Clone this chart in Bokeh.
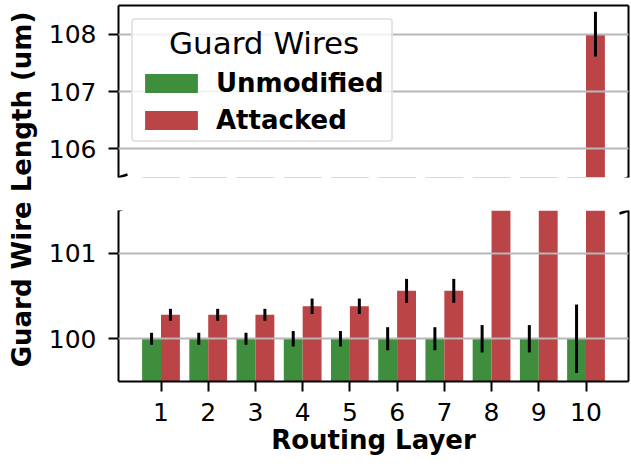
from bokeh.plotting import figure
from bokeh.models import (Range1d, FixedTicker, LinearAxis, Legend, LegendItem,
                          Label, Arrow, ColumnDataSource)
from bokeh.layouts import row, column
from bokeh.transform import dodge
from bokeh.embed import file_html
from bokeh.resources import INLINE

# ---------------- data ----------------
layers = [1, 2, 3, 4, 5, 6, 7, 8, 9, 10]
layer_labels = ["1", "2", "3", "4", "5", "6", "7", "8", "9", "10"]
unmodified = [100.0, 100.0, 100.0, 100.0, 100.0, 100.0, 100.0, 100.0, 100.0, 100.0]
unmodified_err = [0.07, 0.07, 0.07, 0.09, 0.09, 0.135, 0.135, 0.16, 0.16, 0.40]
attacked = [100.28, 100.28, 100.28, 100.38, 100.38, 100.56, 100.56, 103.3, 103.5, 108.0]
attacked_err = [0.07, 0.07, 0.07, 0.09, 0.09, 0.14, 0.14, 0.2, 0.2, 0.39]
top_ticks = [106, 107, 108]
bottom_ticks = [100, 101]
top_limits = (105.5, 108.5)
bottom_limits = (99.5, 101.5)
x_limits = (0.1, 10.9)

GREEN = "#3e8e3e"
RED = "#ba4446"
FONT = "DejaVu Sans"
TICK_FS = "25px"
LABEL_FS = "26px"

src = ColumnDataSource(dict(
    layer=layers,
    unmod=unmodified,
    unmod_lo=[v - e for v, e in zip(unmodified, unmodified_err)],
    unmod_hi=[v + e for v, e in zip(unmodified, unmodified_err)],
    att=attacked,
    att_lo=[v - e for v, e in zip(attacked, attacked_err)],
    att_hi=[v + e for v, e in zip(attacked, attacked_err)],
))

FRAME_W = 510


def bare_axis():
    return LinearAxis(ticker=FixedTicker(ticks=[]), major_tick_out=0, major_tick_in=0,
                      minor_tick_out=0, minor_tick_in=0, major_label_standoff=0,
                      axis_line_width=2, axis_line_color="black")


def style_axis(ax):
    ax.axis_line_width = 2
    ax.axis_line_color = "black"
    ax.major_tick_line_width = 2
    ax.major_tick_line_color = "black"
    ax.major_tick_out = 10
    ax.major_tick_in = 0
    ax.minor_tick_line_color = None
    ax.major_label_text_font = FONT
    ax.major_label_text_font_size = TICK_FS
    ax.major_label_text_color = "black"


def panel(limits, ticks, is_top):
    frame_h = 172 if is_top else 171
    p = figure(frame_width=FRAME_W, frame_height=frame_h,
               x_range=Range1d(*x_limits), y_range=Range1d(*limits),
               output_backend="svg", toolbar_location=None,
               x_axis_location="above" if is_top else "below",
               min_border_left=78, min_border_right=3,
               min_border_top=5 if is_top else 17,
               min_border_bottom=16 if is_top else 60)
    p.outline_line_color = None
    p.background_fill_color = "white"
    p.border_fill_color = "white"

    g = p.vbar(x=dodge("layer", -0.2, range=p.x_range), top="unmod", bottom=0, width=0.4,
               source=src, fill_color=GREEN, line_color=None)
    r = p.vbar(x=dodge("layer", 0.2, range=p.x_range), top="att", bottom=0, width=0.4,
               source=src, fill_color=RED, line_color=None)
    p.segment(x0=dodge("layer", -0.2, range=p.x_range), x1=dodge("layer", -0.2, range=p.x_range),
              y0="unmod_lo", y1="unmod_hi", source=src, line_color="black", line_width=3,
              level="annotation")
    p.segment(x0=dodge("layer", 0.2, range=p.x_range), x1=dodge("layer", 0.2, range=p.x_range),
              y0="att_lo", y1="att_hi", source=src, line_color="black", line_width=3,
              level="annotation")

    p.xgrid.visible = False
    p.ygrid.grid_line_color = "#b8b8b8"
    p.ygrid.grid_line_width = 2
    p.ygrid.level = "guide"

    yax = p.yaxis[0]
    style_axis(yax)
    yax.ticker = FixedTicker(ticks=ticks)
    yax.major_label_standoff = 12
    p.ygrid.ticker = FixedTicker(ticks=ticks)

    xax = p.xaxis[0]
    if is_top:
        xax.ticker = FixedTicker(ticks=[])
        xax.major_tick_out = 0
        xax.major_tick_in = 0
        xax.minor_tick_out = 0
        xax.minor_tick_in = 0
        xax.major_label_standoff = 0
        xax.axis_line_width = 2
        xax.axis_line_color = "black"
    else:
        style_axis(xax)
        xax.ticker = FixedTicker(ticks=layers)
        xax.major_label_overrides = {l: s for l, s in zip(layers, layer_labels)}
        xax.major_label_standoff = 11
        xax.axis_label = "Routing Layer"
        xax.axis_label_text_font = FONT
        xax.axis_label_text_font_size = LABEL_FS
        xax.axis_label_text_font_style = "bold"
        xax.axis_label_text_color = "black"
        xax.axis_label_standoff = 1

    p.add_layout(bare_axis(), "right")

    # axis-break marks
    ybreak = 0 if is_top else frame_h
    for xb in (0, FRAME_W):
        p.add_layout(Arrow(start=None, end=None, x_start=xb - 9, y_start=ybreak - 3,
                           x_end=xb + 9, y_end=ybreak + 3, start_units="screen",
                           end_units="screen", line_width=2.5, line_color="black"))
    return p, g, r


top, g_top, r_top = panel(top_limits, top_ticks, True)
bottom, _, _ = panel(bottom_limits, bottom_ticks, False)

legend = Legend(items=[LegendItem(label="Unmodified", renderers=[g_top]),
                       LegendItem(label="Attacked", renderers=[r_top])],
                location="top_left", margin=13, padding=5, spacing=7,
                title="\u2002\u2002Guard Wires", title_text_font=FONT,
                title_text_font_size="31px", title_text_font_style="normal",
                title_text_color="black", title_standoff=7,
                label_text_font=FONT, label_text_font_size="26px",
                label_text_font_style="bold", label_text_color="black",
                label_width=170,
                glyph_width=66, glyph_height=24, label_standoff=12,
                border_line_color="#cccccc", border_line_width=2,
                background_fill_color="white", background_fill_alpha=0.8)
if "border_radius" in Legend.properties():
    legend.border_radius = 4
top.add_layout(legend)

YLAB_H = 457
ylab = figure(width=40, height=YLAB_H, output_backend="svg", toolbar_location=None,
              min_border=0, x_axis_location=None, y_axis_location=None)
ylab.outline_line_color = None
ylab.grid.visible = False
ylab.add_layout(Label(x=21, y=YLAB_H - 189, x_units="screen", y_units="screen",
                      text="Guard Wire Length (um)", angle=90, angle_units="deg",
                      text_align="center", text_baseline="alphabetic",
                      text_font=FONT, text_font_size=LABEL_FS, text_font_style="bold",
                      text_color="black"))

layout = row(ylab, column(top, bottom, spacing=0), spacing=0)

with open("out.html", "w") as f:
    f.write(file_html(layout, INLINE))
